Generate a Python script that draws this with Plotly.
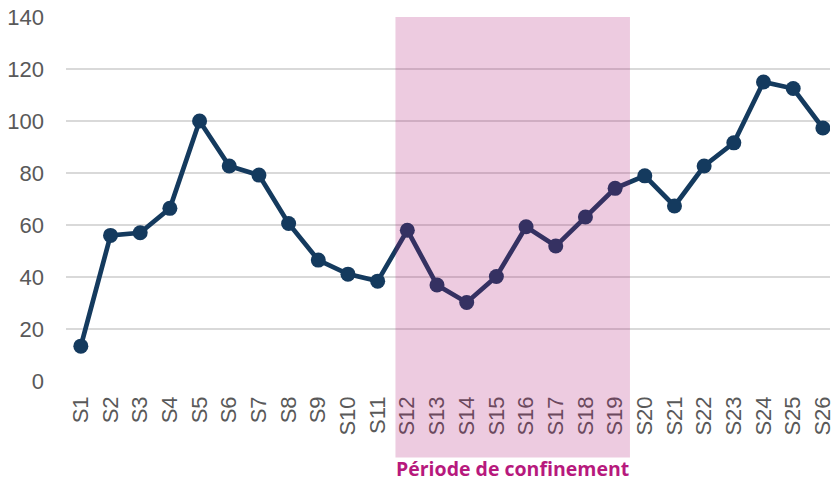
import plotly.graph_objects as go

categories = [f"S{i}" for i in range(1, 27)]
values = [13.4, 56.0, 57.0, 66.4, 100.0, 82.7, 79.2, 60.6, 46.5, 41.1, 38.4,
          58.0, 36.9, 30.2, 40.2, 59.3, 51.9, 63.1, 74.1,
          78.9, 67.3, 82.7, 91.6, 115.0, 112.5, 97.3]
y_ticks = [0, 20, 40, 60, 80, 100, 120, 140]
period_label = "Période de confinement"
period_start = 10.6
period_end = 18.5

fig = go.Figure()
fig.add_trace(go.Scatter(
    x=categories, y=values, mode="lines+markers",
    line=dict(color="#143A5E", width=4.7),
    marker=dict(color="#143A5E", size=15),
    showlegend=False, hoverinfo="skip",
))

fig.add_shape(type="rect", xref="x", yref="paper",
              x0=period_start, x1=period_end, y0=-0.2105, y1=1.0,
              fillcolor="rgba(175,20,115,0.22)", line=dict(width=0), layer="above")

fig.add_annotation(text=f"<b>{period_label}</b>", xref="x", yref="paper",
                   x=(period_start + period_end) / 2, y=-0.241, showarrow=False,
                   font=dict(family="Open Sans", size=19.5, color="#B7197D"),
                   xanchor="center", yanchor="middle")

fig.update_layout(
    width=835, height=482,
    margin=dict(l=66, r=0, t=17, b=101),
    paper_bgcolor="white", plot_bgcolor="white",
    font=dict(family="Liberation Sans, Arial", size=22, color="#595959"),
    xaxis=dict(type="category", range=[-0.5, 25.24], tickangle=-90,
               showgrid=False, showline=False, zeroline=False, ticks="",
               ticklabelstandoff=10, tickfont=dict(size=22, color="#595959")),
    yaxis=dict(range=[0, 140], tickvals=y_ticks, showgrid=True,
               gridcolor="#D9D9D9", gridwidth=1.5, zeroline=False,
               showline=False, ticks="", ticklabelstandoff=21,
               tickfont=dict(size=22, color="#595959")),
)

fig.write_html("out.html", config={"displayModeBar": False},
               post_script="document.body.style.margin='0';document.body.style.overflow='hidden';")
